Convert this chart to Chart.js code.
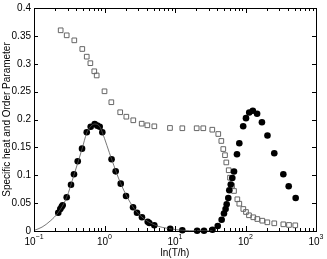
<!DOCTYPE html>
<html>
<head>
<meta charset="utf-8">
<script src="https://cdn.jsdelivr.net/npm/chart.js@4.4.1/dist/chart.umd.min.js"></script>
<style>
  html, body { margin: 0; padding: 0; background: #fff; }
  #chart { display: block; }
</style>
</head>
<body>
<canvas id="chart" width="327" height="259"></canvas>
<script>
// 方块：序参量 (open squares)
const sqX = [0.239, 0.291, 0.373, 0.484, 0.560, 0.630, 0.716, 0.775, 1.00, 1.25, 1.67, 2.04, 2.56, 3.37, 4.05, 5.09,
  8.49, 12.7, 20.3, 25.2, 33.8, 41.1, 45.4, 48.4, 51.2, 53.4, 57.8, 60.3, 64.4, 68.7, 76.6, 81.7,
  93.1, 101.6, 112, 129, 147, 173, 204, 256, 344, 414, 508];
const sqY = [0.360, 0.351, 0.342, 0.3265, 0.3127, 0.301, 0.2865, 0.279, 0.2506, 0.231, 0.213, 0.205, 0.1986, 0.1925, 0.1896, 0.1878,
  0.1848, 0.1843, 0.1843, 0.1843, 0.1817, 0.174, 0.1615, 0.147, 0.136, 0.123, 0.109, 0.0956, 0.0813, 0.0718, 0.0569, 0.049,
  0.0395, 0.0341, 0.0282, 0.0246, 0.0215, 0.0185, 0.0156, 0.0138, 0.012, 0.0108, 0.0102];

// 实心圆：比热 (filled circles)
const cX = [0.221, 0.236, 0.247, 0.255, 0.291, 0.335, 0.369, 0.417, 0.480, 0.560, 0.637, 0.726, 0.791, 0.855, 0.931, 1.26,
  1.44, 1.70, 2.02, 2.54, 2.89, 3.40, 4.10, 4.32, 5.09, 8.55, 12.7, 20.6, 25.8, 34.0, 40.4, 45.9,
  49.5, 52.2, 54.1, 57.0, 58.9, 61.8, 65.0, 68.7, 75.7, 81.7, 92.7, 101.6, 113, 127, 146, 171,
  205, 256, 344, 410, 515];
const cY = [0.0328, 0.0395, 0.0436, 0.0461, 0.0605, 0.083, 0.1017, 0.125, 0.1477, 0.177, 0.187, 0.192, 0.189, 0.187, 0.177, 0.1288,
  0.107, 0.0849, 0.0628, 0.0425, 0.0328, 0.0246, 0.0167, 0.0144, 0.0102, 0.004, 0.0013, 0.0004, 0.0004, 0.0022, 0.009, 0.0201,
  0.0314, 0.0395, 0.0481, 0.0592, 0.0732, 0.0834, 0.0951, 0.1067, 0.1376, 0.1573, 0.1878, 0.2024, 0.2126, 0.2158, 0.2104, 0.1952,
  0.1713, 0.1394, 0.1017, 0.0802, 0.0592];

// 拟合曲线 (fit line)
const fitX = [0.1, 0.13, 0.17, 0.22, 0.29, 0.37, 0.48, 0.56, 0.64, 0.73, 0.86, 0.93, 1.26, 1.70, 2.54, 3.40, 5.09, 8.5, 12.7, 20, 34];
const fitY = [0.001, 0.007, 0.018, 0.033, 0.060, 0.101, 0.147, 0.176, 0.188, 0.192, 0.187, 0.177, 0.129, 0.085, 0.043, 0.025, 0.011, 0.004, 0.0013, 0.0004, 0.0003];

// 刻度
const xDecades = [-1, 0, 1, 2, 3];
const yTicks = [0, 0.05, 0.1, 0.15, 0.2, 0.25, 0.3, 0.35, 0.4];
const yTickLabels = ['0', '0.05', '0.1', '0.15', '0.2', '0.25', '0.3', '0.35', '0.4'];
const xTitle = 'ln(T/h)';
const yTitle = 'Specific heat and Order Parameter';

const FONT = '"Liberation Sans", Arial, sans-serif';

function pairs(xs, ys) {
    return xs.map((x, i) => ({ x: x, y: ys[i] }));
}

// 画 Matlab 风格的边框、向内刻度和 x 轴标签
const framePlugin = {
    id: 'frame',
    afterDraw(chart) {
        const ctx = chart.ctx;
        const a = chart.chartArea;
        const xs = chart.scales.x, ys = chart.scales.y;
        ctx.save();
        ctx.strokeStyle = '#000';
        ctx.lineWidth = 1;
        ctx.strokeRect(Math.round(a.left) + 0.5, Math.round(a.top) + 0.5,
            Math.round(a.right - a.left), Math.round(a.bottom - a.top));

        ctx.beginPath();
        // x 轴主、次刻度
        for (let d = xDecades[0]; d <= xDecades[xDecades.length - 1]; d++) {
            for (let m = 1; m <= 9; m++) {
                if (d === xDecades[xDecades.length - 1] && m > 1) break;
                const v = m * Math.pow(10, d);
                const px = Math.round(xs.getPixelForValue(v)) + 0.5;
                const len = m === 1 ? 5 : 3;
                ctx.moveTo(px, a.bottom); ctx.lineTo(px, a.bottom - len);
                ctx.moveTo(px, a.top); ctx.lineTo(px, a.top + len);
            }
        }
        // y 轴刻度
        yTicks.forEach(v => {
            const py = Math.round(ys.getPixelForValue(v)) + 0.5;
            ctx.moveTo(a.left, py); ctx.lineTo(a.left + 4, py);
            ctx.moveTo(a.right, py); ctx.lineTo(a.right - 4, py);
        });
        ctx.stroke();

        // x 轴标签 10^n
        ctx.fillStyle = '#000';
        ctx.textBaseline = 'alphabetic';
        xDecades.forEach(d => {
            const px = xs.getPixelForValue(Math.pow(10, d));
            ctx.font = '10px ' + FONT;
            const base = '10';
            const wb = ctx.measureText(base).width;
            ctx.font = '7px ' + FONT;
            const exp = String(d).replace('-', '\u2212');
            const we = ctx.measureText(exp).width;
            const left = px - (wb + we) / 2;
            ctx.font = '10px ' + FONT;
            ctx.textAlign = 'left';
            ctx.fillText(base, left, a.bottom + 14);
            ctx.font = '7px ' + FONT;
            ctx.fillText(exp, left + wb, a.bottom + 8);
        });
        ctx.font = '10px ' + FONT;
        ctx.textAlign = 'center';
        ctx.fillText(xTitle, (a.left + a.right) / 2, a.bottom + 25);

        // y 轴标签
        ctx.font = '10px ' + FONT;
        ctx.textAlign = 'right';
        ctx.textBaseline = 'middle';
        yTicks.forEach((v, i) => {
            ctx.fillText(yTickLabels[i], a.left - 3, ys.getPixelForValue(v));
        });
        ctx.restore();
    }
};

window.onload = function() {
    const ctx = document.getElementById('chart').getContext('2d');
    new Chart(ctx, {
        type: 'scatter',
        data: {
            datasets: [
                {
                    type: 'line', label: 'fit', data: pairs(fitX, fitY),
                    borderColor: '#555', borderWidth: 0.8, pointRadius: 0,
                    cubicInterpolationMode: 'monotone', fill: false, clip: false
                },
                {
                    label: 'Specific heat', data: pairs(cX, cY),
                    pointStyle: 'circle', pointRadius: 3.3,
                    backgroundColor: '#000', borderColor: '#000', borderWidth: 0, clip: false
                },
                {
                    label: 'Order parameter', data: pairs(sqX, sqY),
                    pointStyle: 'rect', pointRadius: 3.3,
                    backgroundColor: 'rgba(255,255,255,0)', borderColor: '#666', borderWidth: 1, clip: false
                }
            ]
        },
        options: {
            responsive: false,
            devicePixelRatio: 1,
            animation: false,
            layout: { padding: { top: 8, right: 11, left: 0, bottom: 0 } },
            plugins: { legend: { display: false }, tooltip: { enabled: false } },
            scales: {
                x: {
                    type: 'logarithmic', min: 0.1, max: 1000,
                    grid: { display: false }, border: { display: false },
                    ticks: { display: false },
                    afterFit: s => { s.height = 28; }
                },
                y: {
                    min: 0, max: 0.4,
                    grid: { display: false, drawTicks: false }, border: { display: false },
                    ticks: { display: false },
                    title: { display: true, text: yTitle, color: '#000', padding: { top: 1, bottom: 0 }, font: { family: FONT, size: 10 } },
                    afterFit: s => { s.width = 34; }
                }
            }
        },
        plugins: [framePlugin]
    });
};
</script>
</body>
</html>
